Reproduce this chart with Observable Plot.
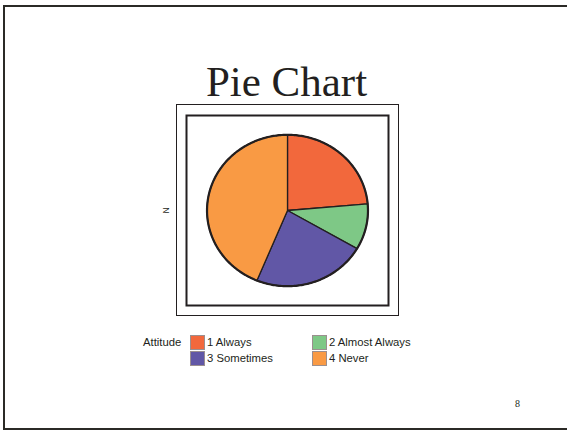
<!DOCTYPE html>
<html>
<head>
<meta charset="utf-8">
<script src="https://cdn.jsdelivr.net/npm/d3@7"></script>
<script src="https://cdn.jsdelivr.net/npm/@observablehq/plot@0.6"></script>
<style>
  html, body { margin: 0; padding: 0; background: #fff; }
  #slide { position: relative; width: 567px; height: 431px; overflow: hidden; background: #fff; }
  #border { position: absolute; left: 3px; top: 5px; width: 600px; height: 421px;
            border-left: 2px solid #2b2a26; border-top: 2px solid #2b2a26; border-bottom: 2px solid #2b2a26; }
  #chart { position: absolute; left: 0; top: 0; }
  #legend { position: absolute; left: 0; top: 335px; font-family: "Liberation Sans", Arial, sans-serif;
            font-size: 11.3px; color: #231f20; }
  .lab { position: absolute; left: 143px; top: 0; line-height: 14px; white-space: nowrap; }
  .item { position: absolute; height: 14px; line-height: 14px; white-space: nowrap; }
  .sw { position: absolute; left: 0; top: 0; width: 13px; height: 13px; border: 1px solid #9b8f8f; }
  .txt { position: absolute; left: 17px; top: 0; }
</style>
</head>
<body>
<div id="slide">
  <div id="border"></div>
  <div id="chart"></div>
  <div id="legend"></div>
</div>
<script>
// Data
const categories = ["1 Always", "2 Almost Always", "3 Sometimes", "4 Never"];
const values = [23.6, 9.8, 22.8, 43.8];
const colors = ["#F2683C", "#7EC886", "#6157A6", "#F99A44"];
const legendTitle = "Attitude";
const chartTitle = "Pie Chart";
const axisLabel = "N";
const pageNumber = "8";

// Build slice outlines from the pie layout (unit circle, clockwise from 12 o'clock)
const arcs = d3.pie().sort(null).value(d => d.value)(categories.map((c, i) => ({cat: c, value: values[i]})));
const slicePts = [];
for (const a of arcs) {
  slicePts.push({cat: a.data.cat, x: 0, y: 0});
  const n = Math.max(2, Math.ceil((a.endAngle - a.startAngle) / (Math.PI / 180)));
  for (let k = 0; k <= n; k++) {
    const t = a.startAngle + (a.endAngle - a.startAngle) * k / n;
    slicePts.push({cat: a.data.cat, x: Math.sin(t), y: Math.cos(t)});
  }
}
const rimPts = d3.range(0, 360).map(d => ({x: Math.sin(d * Math.PI / 180), y: Math.cos(d * Math.PI / 180)}));

const ink = "#231f20";
const plot = Plot.plot({
  width: 567,
  height: 431,
  marginLeft: 186,
  marginRight: 179,
  marginTop: 115,
  marginBottom: 126,
  x: {domain: [-1.255, 1.255], axis: null},
  y: {domain: [-1.255, 1.255], axis: null},
  color: {domain: categories, range: colors},
  style: {background: "transparent", overflow: "visible"},
  marks: [
    Plot.frame({stroke: ink, strokeWidth: 2}),
    Plot.frame({stroke: ink, strokeWidth: 1, insetLeft: -10, insetRight: -10, insetTop: -11, insetBottom: -10}),
    Plot.line(slicePts, {x: "x", y: "y", z: "cat", fill: "cat", stroke: ink, strokeWidth: 1.3, curve: "linear-closed"}),
    Plot.line(rimPts, {x: "x", y: "y", stroke: ink, strokeWidth: 2.2, curve: "linear-closed"}),
    Plot.text([axisLabel], {frameAnchor: "left", dx: -20, rotate: -90, textAnchor: "middle", lineAnchor: "middle",
      fontSize: 8.5, fontFamily: "Liberation Sans, Arial, sans-serif", fill: ink}),
    Plot.text([chartTitle], {frameAnchor: "top", dx: -1, dy: -20, textAnchor: "middle", lineAnchor: "bottom",
      fontSize: 43, fontFamily: "Liberation Serif, Times New Roman, serif", fill: ink}),
    Plot.text([pageNumber], {frameAnchor: "bottom-right", dx: 129, dy: 101, textAnchor: "middle", lineAnchor: "bottom",
      fontSize: 10, fontFamily: "Liberation Serif, Times New Roman, serif", fill: ink})
  ]
});
document.getElementById("chart").appendChild(plot);

// Legend built from the same categories and colours
const legend = document.getElementById("legend");
const lab = document.createElement("div");
lab.className = "lab";
lab.textContent = legendTitle;
legend.appendChild(lab);
const colX = [190, 312];
const rowY = [0, 15.5];
categories.forEach((c, i) => {
  const it = document.createElement("div");
  it.className = "item";
  it.style.left = colX[i % 2] + "px";
  it.style.top = rowY[Math.floor(i / 2)] + "px";
  const sw = document.createElement("div");
  sw.className = "sw";
  sw.style.background = colors[i];
  const tx = document.createElement("div");
  tx.className = "txt";
  tx.textContent = c;
  it.appendChild(sw);
  it.appendChild(tx);
  legend.appendChild(it);
});
</script>
</body>
</html>
